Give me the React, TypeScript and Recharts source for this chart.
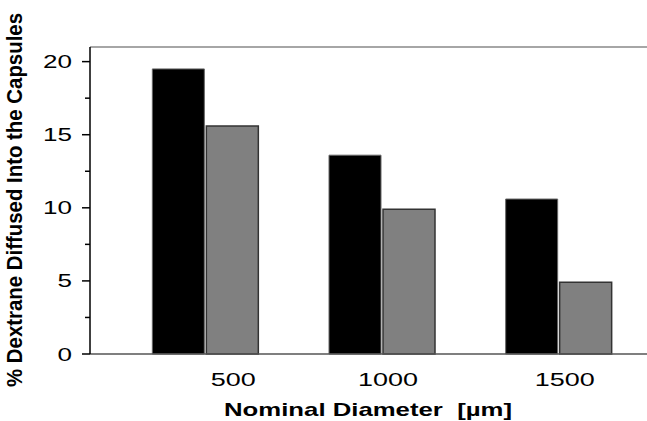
import { BarChart, Bar, XAxis, YAxis, ReferenceLine } from "recharts";

const diameters = ["500", "1000", "1500"];
const seriesA = [19.5, 13.6, 10.6];
const seriesB = [15.6, 9.9, 4.9];
const yTicks = [0, 2.5, 5, 7.5, 10, 12.5, 15, 17.5, 20];

const data = diameters.map((d, i) => ({ d, a: seriesA[i], b: seriesB[i] }));

const font = "'Liberation Sans', Arial, sans-serif";

const YTick = (props: any) => {
  const { y, payload } = props;
  const major = payload.value % 5 === 0;
  const s = String(payload.value);
  return (
    <g>
      <line x1={major ? 82 : 85} x2={90} y1={y} y2={y} stroke="#000" strokeWidth={1.5} />
      {major && (
        <text
          x={72}
          y={y}
          dy={6.5}
          textAnchor="end"
          fontSize={18}
          fontFamily={font}
          fill="#000"
          textLength={14.5 * s.length}
          lengthAdjust="spacingAndGlyphs"
        >
          {s}
        </text>
      )}
    </g>
  );
};

const XTick = (props: any) => {
  const { x, y, payload, index } = props;
  const s = String(payload.value);
  return (
    <text
      x={x + (index === 0 ? 28 : 6)}
      y={y + 24}
      textAnchor="middle"
      fontSize={18}
      fontFamily={font}
      fill="#000"
      textLength={15 * s.length}
      lengthAdjust="spacingAndGlyphs"
    >
      {s}
    </text>
  );
};

const XTitle = () => (
  <text
    x={368}
    y={416}
    textAnchor="middle"
    fontSize={19}
    fontWeight="bold"
    fontFamily={font}
    fill="#000"
    textLength={288}
    lengthAdjust="spacingAndGlyphs"
    style={{ whiteSpace: "pre" }}
  >
    {"Nominal Diameter  [\u00b5m]"}
  </text>
);

const YTitle = () => (
  <g transform="translate(22,200) scale(1.35,1) rotate(-90)">
    <text
      x={0}
      y={0}
      textAnchor="middle"
      fontSize={16}
      fontWeight="bold"
      fontFamily={font}
      fill="#000"
      textLength={374}
      lengthAdjust="spacingAndGlyphs"
    >
      % Dextrane Diffused Into the Capsules
    </text>
  </g>
);

export default function App() {
  return (
    <div style={{ position: "absolute", left: 0, top: 0, background: "#fff" }}>
      <BarChart
        width={647}
        height={421}
        data={data}
        margin={{ top: 47, right: 0, left: 0, bottom: 0 }}
        barGap={2}
        barCategoryGap="20%"
      >
        <XAxis
          dataKey="d"
          height={67}
          tick={<XTick />}
          tickLine={false}
          axisLine={{ stroke: "#555", strokeWidth: 1.5 }}
          padding={{ left: 27, right: 0 }}
          label={<XTitle />}
        />
        <YAxis
          width={90}
          domain={[0, 21]}
          ticks={yTicks}
          interval={0}
          tick={<YTick />}
          tickLine={false}
          axisLine={{ stroke: "#000", strokeWidth: 1.5 }}
          label={<YTitle />}
        />
        <ReferenceLine y={21} stroke="#888" strokeWidth={1.5} />
        <Bar dataKey="a" fill="#000" stroke="#666" strokeWidth={1} isAnimationActive={false} />
        <Bar dataKey="b" fill="#808080" stroke="#333" strokeWidth={1.5} isAnimationActive={false} />
      </BarChart>
    </div>
  );
}
